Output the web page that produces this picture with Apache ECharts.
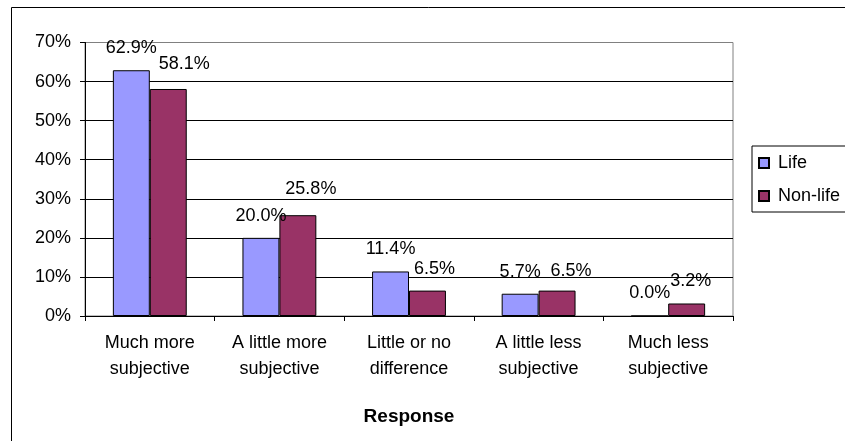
<!DOCTYPE html>
<html>
<head>
<meta charset="utf-8">
<script src="https://cdn.jsdelivr.net/npm/echarts@6/dist/echarts.min.js"></script>
<style>
  html, body { margin: 0; padding: 0; background: #fff; }
  #chart { width: 845px; height: 441px; }
</style>
</head>
<body>
<div id="chart"></div>
<script>
// data
var categories = ["Much more\nsubjective", "A little more\nsubjective", "Little or no\ndifference", "A little less\nsubjective", "Much less\nsubjective"];
var lifeValues = [62.9, 20.0, 11.4, 5.7, 0.0];
var nonLifeValues = [58.1, 25.8, 6.5, 6.5, 3.2];
var yTicks = [0, 10, 20, 30, 40, 50, 60, 70];

// label nudges for the Non-life series (as placed in the original)
var nonLifeLabelDx = [16, 13, 7, 14, 4];
var nonLifeLabelDy = [-3, -4, 0, 2, 0];

var font = "Arial, 'Liberation Sans', sans-serif";

var myChart = echarts.init(document.getElementById("chart"));

function barLabel() {
  return {
    show: true,
    position: "top",
    distance: 13,
    color: "#000",
    fontFamily: font,
    fontSize: 18,
    formatter: function (p) {
      return p.value.toFixed(1) + "%";
    }
  };
}

var nonLifeData = nonLifeValues.map(function (v, i) {
  return { value: v, label: { offset: [nonLifeLabelDx[i], nonLifeLabelDy[i]] } };
});

var option = {
  animation: false,
  backgroundColor: "#fff",
  graphic: [
    {
      type: "rect",
      z: -10,
      shape: { x: 11.5, y: 7.5, width: 900, height: 500 },
      style: { fill: "none", stroke: "#000", lineWidth: 1 }
    }
  ],
  grid: {
    left: 85,
    top: 42.5,
    right: 112,
    bottom: 125,
    show: true,
    borderColor: "#808080",
    borderWidth: 1,
    backgroundColor: "#fff",
    containLabel: false,
    outerBoundsMode: "none"
  },
  legend: {
    orient: "vertical",
    left: 752,
    top: 146,
    padding: [7, 10, 6, 6],
    itemGap: 13,
    itemWidth: 10,
    itemHeight: 10,
    icon: "rect",
    borderColor: "#000",
    borderWidth: 1,
    backgroundColor: "#fff",
    textStyle: {
      color: "#000",
      fontFamily: font,
      fontSize: 18,
      lineHeight: 20,
      padding: [0, 0, 0, 4]
    },
    data: ["Life", "Non-life"]
  },
  xAxis: {
    type: "category",
    data: categories,
    name: "Response",
    nameLocation: "middle",
    nameGap: 91,
    nameTextStyle: {
      color: "#000",
      fontFamily: font,
      fontSize: 19,
      fontWeight: "bold"
    },
    axisLine: { lineStyle: { color: "#000", width: 1 } },
    axisTick: { show: true, length: 5, lineStyle: { color: "#000" } },
    axisLabel: {
      color: "#000",
      fontFamily: font,
      fontSize: 18,
      lineHeight: 26,
      margin: 14,
      interval: 0
    }
  },
  yAxis: {
    type: "value",
    min: yTicks[0],
    max: yTicks[yTicks.length - 1],
    interval: 10,
    axisLine: { show: true, lineStyle: { color: "#000", width: 1 } },
    axisTick: { show: true, length: 5, lineStyle: { color: "#000" } },
    axisLabel: {
      color: "#000",
      fontFamily: font,
      fontSize: 18,
      margin: 14,
      formatter: "{value}%"
    },
    splitLine: {
      show: true,
      showMaxLine: false,
      lineStyle: { color: "#000", width: 1 }
    }
  },
  series: [
    {
      name: "Life",
      type: "bar",
      data: lifeValues,
      barGap: "0%",
      barCategoryGap: "43%",
      itemStyle: { color: "#9999FF", borderColor: "#000", borderWidth: 1 },
      label: barLabel()
    },
    {
      name: "Non-life",
      type: "bar",
      data: nonLifeData,
      barGap: "0%",
      barCategoryGap: "43%",
      itemStyle: { color: "#993366", borderColor: "#000", borderWidth: 1 },
      label: barLabel()
    }
  ]
};

myChart.setOption(option);
window.addEventListener("resize", function () {
  myChart.resize();
});
</script>
</body>
</html>
